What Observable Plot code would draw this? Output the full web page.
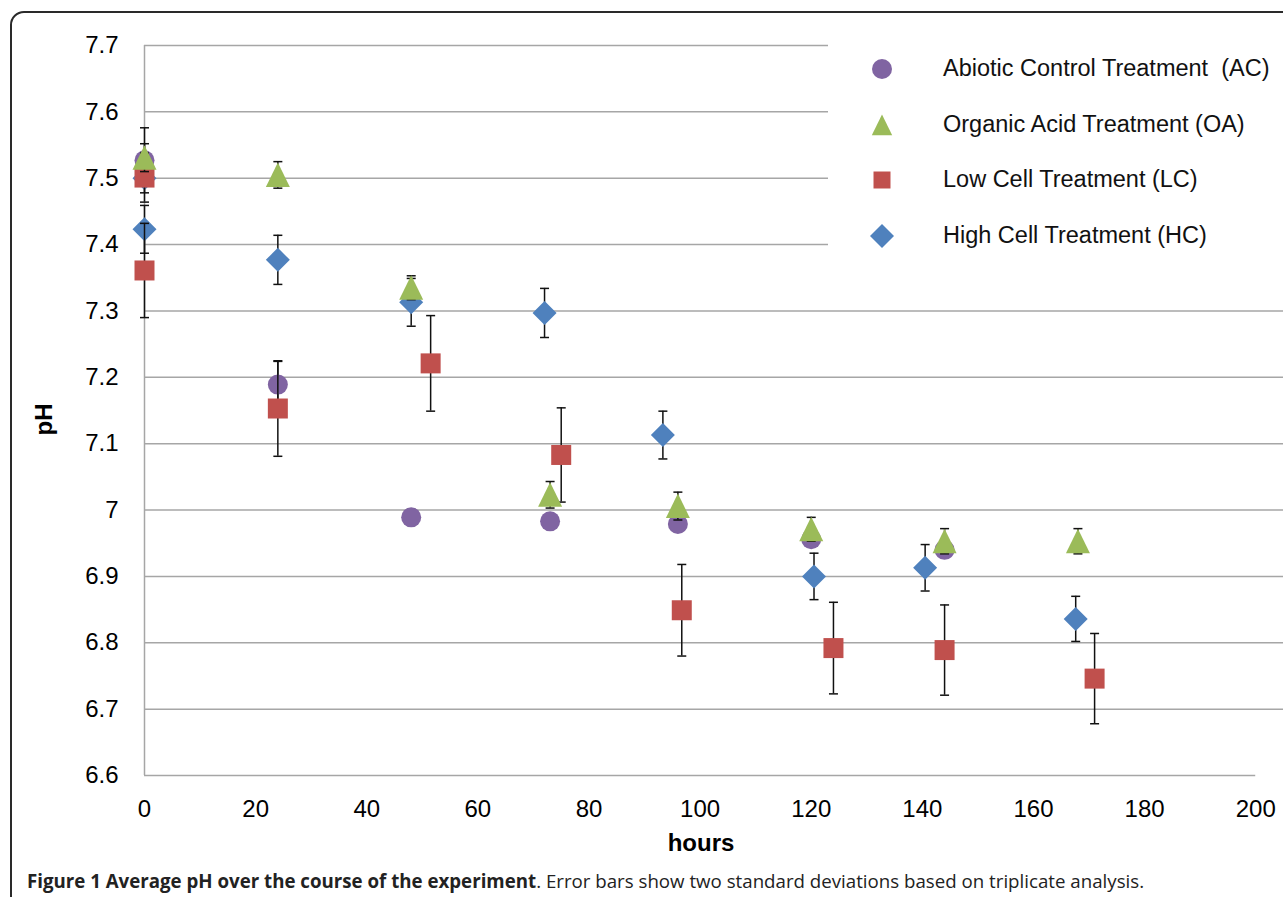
<!DOCTYPE html>
<html><head><meta charset="utf-8">
<script src="https://cdn.jsdelivr.net/npm/d3@7"></script>
<script src="https://cdn.jsdelivr.net/npm/@observablehq/plot@0.6"></script>
<style>
html,body{margin:0;padding:0;background:#fff}
body{width:1283px;height:897px;overflow:hidden;position:relative;font-family:"Liberation Sans",Arial,sans-serif}
#chart{position:absolute;left:0;top:0}
#frame{position:absolute;left:10px;top:11px;width:1400px;height:1000px;border:2px solid #2a2a2a;border-radius:14px;pointer-events:none}
#legend{position:absolute;left:828px;top:40px;width:455px;height:224px;background:#fff}
.row{position:absolute;left:0;height:30px;width:455px}
.row svg{position:absolute;left:40px;top:1px}
.row span{position:absolute;left:115px;top:1px;font-size:23.5px;color:#111;white-space:pre}
#caption{position:absolute;left:27px;top:868px;font-family:"Open Sans",sans-serif;font-size:18.7px;color:#222;white-space:nowrap}
#caption b{font-weight:700}
</style>
</head><body>
<div id="chart"></div>
<div id="legend"></div>
<div id="frame"></div>
<div id="caption"><b>Figure 1 Average pH over the course of the experiment</b>. Error bars show two standard deviations based on triplicate analysis.</div>
<script>
// ---- data ----
const seriesNames = ["Abiotic Control Treatment  (AC)", "Organic Acid Treatment (OA)", "Low Cell Treatment (LC)", "High Cell Treatment (HC)"];
const seriesColors = ["#8064A2", "#9BBB59", "#C0504D", "#4F81BD"];

const hoursAC = [0, 24, 48, 73, 96, 120, 144];
const phAC    = [7.527, 7.189, 6.989, 6.983, 6.979, 6.956, 6.940];
const errAC   = [0.049, 0.035, 0.012, 0.010, 0.010, 0.010, 0.010];

const hoursOA = [0, 24, 48, 73, 96, 120, 144, 168];
const phOA    = [7.531, 7.505, 7.335, 7.023, 7.006, 6.971, 6.953, 6.953];
const errOA   = [0.021, 0.020, 0.018, 0.020, 0.021, 0.018, 0.019, 0.019];

const hoursLC = [0, 0, 24, 51.5, 75, 96.7, 124, 144, 171];
const phLC    = [7.501, 7.361, 7.153, 7.221, 7.083, 6.849, 6.792, 6.789, 6.746];
const errLC   = [0.037, 0.071, 0.072, 0.072, 0.071, 0.069, 0.069, 0.068, 0.068];

const hoursHC = [0, 0, 24, 48, 72, 93.3, 120.5, 140.5, 167.6];
const phHC    = [7.500, 7.423, 7.377, 7.313, 7.297, 7.113, 6.900, 6.913, 6.836];
const errHC   = [0, 0.036, 0.037, 0.036, 0.037, 0.036, 0.035, 0.035, 0.034];

const xTicks = [0, 20, 40, 60, 80, 100, 120, 140, 160, 180, 200];
const yTicks = [6.6, 6.7, 6.8, 6.9, 7.0, 7.1, 7.2, 7.3, 7.4, 7.5, 7.6, 7.7];

// ---- symbols ----
const circleSym = {draw(c){ c.moveTo(10,0); c.arc(0,0,10,0,2*Math.PI); }};
const triangleSym = {draw(c){ c.moveTo(0,-12.5); c.lineTo(12,12); c.lineTo(-12,12); c.closePath(); }};
const squareSym = {draw(c){ c.rect(-10,-10,20,20); }};
const diamondSym = {draw(c){ c.moveTo(0,-12); c.lineTo(12,0); c.lineTo(0,12); c.lineTo(-12,0); c.closePath(); }};
const capSym = {draw(c){ c.moveTo(-4.5,0); c.lineTo(4.5,0); }};

const rows = (h, p, e) => h.map((x, i) => ({hours: x, ph: p[i], err: e[i]}));
const AC = rows(hoursAC, phAC, errAC);
const OA = rows(hoursOA, phOA, errOA);
const LC = rows(hoursLC, phLC, errLC);
const HC = rows(hoursHC, phHC, errHC);

function seriesMarks(data, color, sym) {
  const withErr = data.filter(d => d.err > 0);
  return [
    Plot.ruleX(withErr, {x: "hours", y1: d => d.ph - d.err, y2: d => d.ph + d.err, stroke: "#111", strokeWidth: 1.5}),
    Plot.dot(withErr, {x: "hours", y: d => d.ph + d.err, symbol: capSym, stroke: "#111", strokeWidth: 1.5, fill: "none"}),
    Plot.dot(withErr, {x: "hours", y: d => d.ph - d.err, symbol: capSym, stroke: "#111", strokeWidth: 1.5, fill: "none"}),
    Plot.dot(data, {x: "hours", y: "ph", symbol: sym, fill: color, stroke: "none"})
  ];
}

const chart = Plot.plot({
  width: 1283,
  height: 866,
  marginTop: 45,
  marginBottom: 91,
  marginLeft: 144,
  marginRight: 0,
  style: {fontFamily: "'Liberation Sans', Arial, sans-serif", fontSize: "24px", color: "#000", background: "transparent", overflow: "visible"},
  x: {domain: [0, 205], ticks: xTicks, tickSize: 0, tickPadding: 24, label: null, tickFormat: d => String(d)},
  y: {domain: [6.6, 7.7], ticks: yTicks, tickSize: 0, tickPadding: 26, label: null, tickFormat: d => String(+d.toFixed(1))},
  marks: [
    Plot.ruleY(yTicks.slice(1), {x1: 0, x2: 205, stroke: "#a6a6a6", strokeWidth: 1.5}),
    Plot.ruleY([6.6], {x1: 0, x2: 200, stroke: "#a6a6a6", strokeWidth: 1.5}),
    Plot.ruleX([0], {y1: 6.6, y2: 7.7, stroke: "#a6a6a6", strokeWidth: 1.5}),
    ...seriesMarks(AC, seriesColors[0], circleSym),
    ...seriesMarks(HC, seriesColors[3], diamondSym),
    ...seriesMarks(LC, seriesColors[2], squareSym),
    ...seriesMarks(OA, seriesColors[1], triangleSym),
    Plot.text(["pH"], {frameAnchor: "left", text: d => d, rotate: -90, dx: -100, dy: 25, fontSize: 24, fontWeight: "bold", fill: "#000"}),
    Plot.text(["hours"], {frameAnchor: "bottom", text: d => d, dx: -13, dy: 68, fontSize: 24, fontWeight: "bold", fill: "#000", lineAnchor: "middle"})
  ]
});
document.getElementById("chart").appendChild(chart);

// ---- legend ----
const legendSyms = [circleSym, triangleSym, squareSym, diamondSym];
const legendScale = [1.0, 0.85, 0.85, 1.0];
const legend = document.getElementById("legend");
seriesNames.forEach((name, i) => {
  const row = document.createElement("div");
  row.className = "row";
  row.style.top = (14 + i * 55.7) + "px";
  const path = d3.path();
  legendSyms[i].draw(path);
  const s = legendScale[i];
  row.innerHTML = `<svg width="28" height="28" viewBox="-14 -14 28 28"><path d="${path}" fill="${seriesColors[i]}" transform="scale(${s})"/></svg><span>${name}</span>`;
  legend.appendChild(row);
});
</script>
</body></html>
